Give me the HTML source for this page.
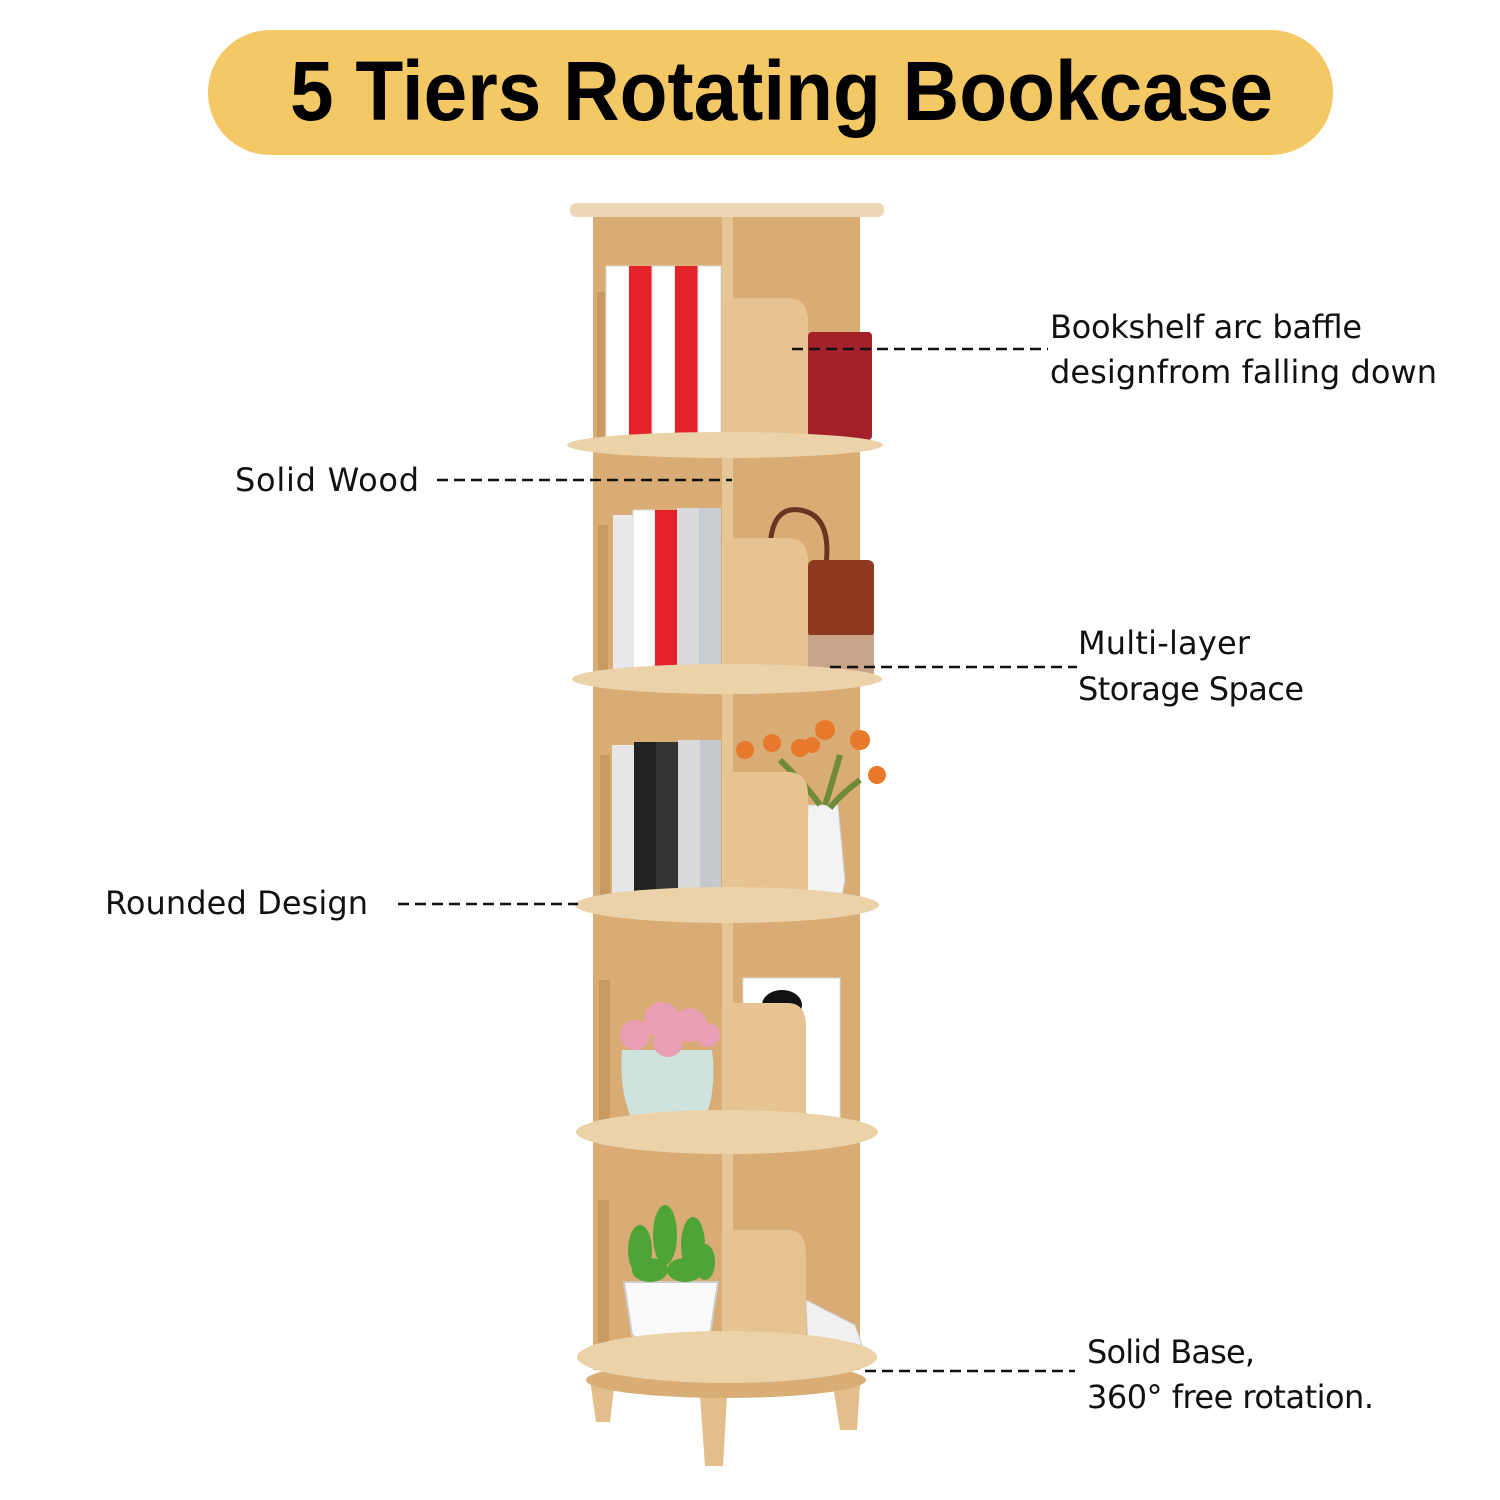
<!DOCTYPE html>
<html><head><meta charset="utf-8"><style>
html,body{margin:0;padding:0;background:#fff;width:1500px;height:1500px;overflow:hidden}
svg{display:block}
.l{font-family:"DejaVu Sans","Liberation Sans",sans-serif;font-size:32px;fill:#111}
</style></head><body>
<svg width="1500" height="1500" viewBox="0 0 1500 1500">
<rect x="208" y="30" width="1125" height="125" rx="62" fill="#F4C965"/>
<text x="290" y="120" textLength="983" lengthAdjust="spacingAndGlyphs" font-family="Liberation Sans,sans-serif" font-weight="bold" font-size="84" fill="#000">5 Tiers Rotating Bookcase</text>

<!-- legs -->
<path d="M590 1380 L615 1380 L610 1422 L596 1422Z" fill="#E3BE8A"/>
<path d="M700 1395 L727 1395 L723 1466 L705 1466Z" fill="#E3BE8A"/>
<path d="M833 1385 L860 1385 L857 1430 L840 1430Z" fill="#E3BE8A"/>
<ellipse cx="726" cy="1380" rx="140" ry="18" fill="#D8AE76"/>
<!-- body -->
<rect x="593" y="215" width="267" height="1155" fill="#D8AC74"/>
<rect x="722" y="215" width="11" height="1155" fill="#E6C694"/>
<!-- top -->
<rect x="570" y="203" width="314" height="14" rx="6" fill="#EDD8B5"/>

<!-- tier1 books -->
<rect x="606" y="266" width="23" height="182" fill="#fff" stroke="#ddd"/>
<rect x="629" y="266" width="23" height="182" fill="#E3222A"/>
<rect x="652" y="266" width="23" height="182" fill="#fff" stroke="#ddd"/>
<rect x="675" y="266" width="23" height="182" fill="#E3222A"/>
<rect x="698" y="266" width="23" height="182" fill="#fff" stroke="#ddd"/>
<rect x="808" y="332" width="64" height="108" rx="4" fill="#A3202B"/>
<!-- tier2 -->
<rect x="613" y="515" width="20" height="172" fill="#E8E8E8"/>
<rect x="633" y="510" width="22" height="177" fill="#fff" stroke="#ddd"/>
<rect x="655" y="510" width="22" height="177" fill="#E3222A"/>
<rect x="677" y="508" width="22" height="179" fill="#D9D9D9"/>
<rect x="699" y="508" width="22" height="179" fill="#C9CDD1"/>
<path d="M770 560 Q768 505 800 510 Q832 515 826 565" fill="none" stroke="#6a3520" stroke-width="5"/>
<rect x="808" y="560" width="66" height="78" rx="6" fill="#8E3A22"/>
<rect x="808" y="635" width="66" height="40" fill="#C9A48A"/>
<!-- tier3 -->
<rect x="612" y="745" width="22" height="172" fill="#E6E6E6"/>
<rect x="634" y="742" width="22" height="175" fill="#222"/>
<rect x="656" y="742" width="22" height="175" fill="#333"/>
<rect x="678" y="740" width="22" height="177" fill="#D9D9D9"/>
<rect x="700" y="740" width="21" height="177" fill="#C5C9CE"/>
<path d="M808 805 L838 805 L845 880 L840 908 L810 908 L806 880Z" fill="#f3f3f3" stroke="#ccc"/>
<g fill="#E8782A"><circle cx="745" cy="750" r="9"/><circle cx="772" cy="743" r="9"/><circle cx="800" cy="748" r="9"/><circle cx="825" cy="730" r="10"/><circle cx="860" cy="740" r="10"/><circle cx="877" cy="775" r="9"/><circle cx="812" cy="745" r="8"/></g>
<path d="M780 760 Q810 790 820 805 M840 755 Q830 790 825 805 M860 780 Q840 795 830 808" stroke="#6f8a3a" stroke-width="6" fill="none"/>
<!-- tier4 -->
<rect x="743" y="978" width="97" height="160" fill="#fff" stroke="#ddd"/>
<ellipse cx="782" cy="1005" rx="20" ry="15" fill="#111"/>
<path d="M622 1050 L712 1050 Q718 1095 700 1130 L640 1135 Q618 1100 622 1050Z" fill="#CFE3DE"/>
<g fill="#E9A0B4"><circle cx="635" cy="1035" r="15"/><circle cx="662" cy="1020" r="18"/><circle cx="690" cy="1025" r="17"/><circle cx="708" cy="1035" r="12"/><circle cx="668" cy="1042" r="15"/></g>
<!-- tier5 -->
<path d="M624 1282 L718 1282 L710 1335 Q670 1360 632 1335Z" fill="#fafafa" stroke="#ccc" stroke-width="2"/>
<g fill="#4FA437"><ellipse cx="640" cy="1250" rx="12" ry="25"/><ellipse cx="665" cy="1235" rx="12" ry="30"/><ellipse cx="693" cy="1245" rx="12" ry="28"/><ellipse cx="705" cy="1262" rx="10" ry="18"/><ellipse cx="650" cy="1270" rx="18" ry="12"/><ellipse cx="685" cy="1270" rx="18" ry="12"/></g>
<path d="M806 1300 L855 1325 L862 1345 L808 1355Z" fill="#f0f0f0" stroke="#ccc"/>

<!-- baffles -->
<path d="M725 448 L725 298 L788 298 Q808 298 808 322 L808 448Z" fill="#E6C391"/>
<path d="M725 688 L725 538 L788 538 Q808 538 808 562 L808 688Z" fill="#E6C391"/>
<path d="M725 920 L725 772 L788 772 Q808 772 808 796 L808 920Z" fill="#E6C391"/>
<path d="M725 1148 L725 1003 L788 1003 Q806 1003 806 1027 L806 1148Z" fill="#E6C391"/>
<path d="M725 1370 L725 1230 L788 1230 Q806 1230 806 1254 L806 1370Z" fill="#E6C391"/>
<!-- side panels left -->
<g fill="#C99A60"><rect x="597" y="292" width="8" height="150"/><rect x="598" y="525" width="10" height="150"/><rect x="600" y="755" width="10" height="150"/><rect x="599" y="980" width="11" height="155"/><rect x="598" y="1200" width="11" height="150"/></g>

<!-- shelves -->
<g fill="#EBD2A8">
<ellipse cx="725" cy="445" rx="158" ry="13"/>
<ellipse cx="727" cy="679" rx="155" ry="15"/>
<ellipse cx="727" cy="905" rx="152" ry="18"/>
<ellipse cx="727" cy="1132" rx="151" ry="22"/>
<ellipse cx="727" cy="1357" rx="150" ry="26"/>
</g>

<!-- dashed lines -->
<g stroke="#111" stroke-width="2.5" stroke-dasharray="11,6">
<line x1="792" y1="349" x2="1048" y2="349"/>
<line x1="437" y1="480" x2="732" y2="480"/>
<line x1="830" y1="667" x2="1077" y2="667"/>
<line x1="398" y1="904" x2="578" y2="904"/>
<line x1="865" y1="1371" x2="1075" y2="1371"/>
</g>

<text class="l" x="1050" y="338" textLength="312">Bookshelf arc baffle</text>
<text class="l" x="1050" y="383" textLength="387">designfrom falling down</text>
<text class="l" x="235" y="491" textLength="184">Solid Wood</text>
<text class="l" x="1078" y="654" textLength="172">Multi-layer</text>
<text class="l" x="1078" y="700" textLength="226">Storage Space</text>
<text class="l" x="105" y="914" textLength="263">Rounded Design</text>
<text class="l" x="1087" y="1363" textLength="168">Solid Base,</text>
<text class="l" x="1087" y="1408" textLength="287">360° free rotation.</text>
</svg>
</body></html>
